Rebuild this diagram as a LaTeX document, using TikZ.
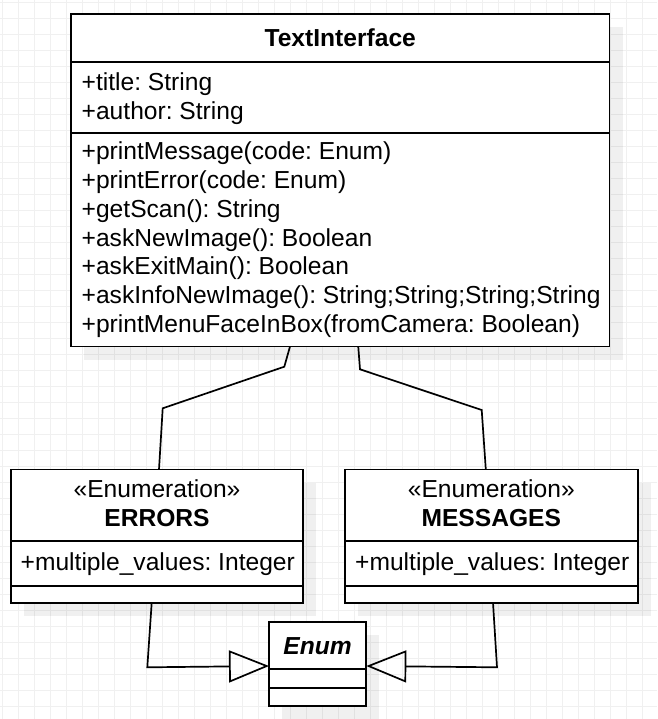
\documentclass[tikz,border=0pt]{standalone}
\usepackage{fontspec}
\setmainfont{Liberation Sans}
\usepackage{tikz}
\usetikzlibrary{calc,shadows,arrows.meta}
\frenchspacing

\begin{document}
\begin{tikzpicture}[x=1pt, y=-1pt,
    umlfont/.style={font=\fontsize{24.6}{28.7}\selectfont},
    classbox/.style={draw, line width=1.9pt, fill=white, inner sep=0pt, outer sep=0pt, anchor=north west,
        drop shadow={shadow xshift=13pt, shadow yshift=-13pt, fill=black, opacity=0.06}},
    rowline/.style={line width=1.9pt},
    member/.style={umlfont, inner sep=0pt, anchor=base west},
    heading/.style={umlfont, inner sep=0pt, anchor=base},
    conn/.style={line width=1.7pt},
    inherit/.style={conn, -{Triangle[open, length=40pt, width=32pt]}}]
        \useasboundingbox (0,0) rectangle (657,719);
        \fill [white] (0,0) rectangle (657,719);
        \foreach \g in {0,...,40} \draw [black!6, line width=1pt] (2.7+16*\g,0) -- (2.7+16*\g,719);
        \foreach \g in {0,...,44} \draw [black!6, line width=1pt] (0,2.7+16*\g) -- (657,2.7+16*\g);

        \node [classbox, minimum width=538.5pt, minimum height=332.5pt] (ti) at (71,14) {};
        \draw [rowline] ($(ti.north west)+(0,47.6)$) -- ($(ti.north east)+(0,47.6)$);
        \draw [rowline] ($(ti.north west)+(0,119)$) -- ($(ti.north east)+(0,119)$);
        \node [heading, font=\fontsize{24.6}{28.7}\selectfont\bfseries] (tiname) at (340.25,46.5) {TextInterface};
        \node [member] (tia1) at (81.5,90.7) {+title: String};
        \node [member] (tia2) at (81.5,119.4) {+author: String};
        \node [member] (tim1) at (81.5,160) {+printMessage(code: Enum)};
        \node [member] (tim2) at (81.5,188.7) {+printError(code: Enum)};
        \node [member] (tim3) at (81.5,217.4) {+getScan(): String};
        \node [member] (tim4) at (81.5,246.1) {+askNewImage(): Boolean};
        \node [member] (tim5) at (81.5,274.8) {+askExitMain(): Boolean};
        \node [member] (tim6) at (81.5,303.5) {+askInfoNewImage(): String;String;String;String};
        \node [member] (tim7) at (81.5,332.2) {+printMenuFaceInBox(fromCamera: Boolean)};

        \node [classbox, minimum width=292.6pt, minimum height=133.2pt] (err) at (10.7,469.5) {};
        \draw [rowline] ($(err.north west)+(0,71.8)$) -- ($(err.north east)+(0,71.8)$);
        \draw [rowline] ($(err.north west)+(0,116.2)$) -- ($(err.north east)+(0,116.2)$);
        \node [heading] (errst) at (157,497.3) {«Enumeration»};
        \node [heading, font=\fontsize{24.6}{28.7}\selectfont\bfseries] (errname) at (157,526.7) {ERRORS};
        \node [member] (erra1) at (20.5,570.7) {+multiple\_values: Integer};

        \node [classbox, minimum width=292.6pt, minimum height=133.2pt] (msg) at (345,469.5) {};
        \draw [rowline] ($(msg.north west)+(0,71.8)$) -- ($(msg.north east)+(0,71.8)$);
        \draw [rowline] ($(msg.north west)+(0,116.2)$) -- ($(msg.north east)+(0,116.2)$);
        \node [heading] (msgst) at (491.3,497.3) {«Enumeration»};
        \node [heading, font=\fontsize{24.6}{28.7}\selectfont\bfseries] (msgname) at (491.3,526.7) {MESSAGES};
        \node [member] (msga1) at (355,570.7) {+multiple\_values: Integer};

        \node [classbox, minimum width=97.3pt, minimum height=84pt] (enm) at (269,621.7) {};
        \draw [rowline] ($(enm.north west)+(0,47.6)$) -- ($(enm.north east)+(0,47.6)$);
        \draw [rowline] ($(enm.north west)+(0,66.6)$) -- ($(enm.north east)+(0,66.6)$);
        \node [heading, font=\fontsize{24.6}{28.7}\selectfont\bfseries\itshape] (enmname) at (317.6,654) {Enum};

        \draw [conn] ([xshift=-50.25pt]ti.south) -- (284.3,366.7) -- (162.7,408.3) -- ([xshift=2pt]err.north);
        \draw [conn] ([xshift=18pt]ti.south) -- (360,369.3) -- (481.7,410) -- ([xshift=-5.5pt]msg.north);
        \draw [inherit] ([xshift=-5.3pt]err.south) -- (147.3,667.3) -- ($(enm.west)+(0,2.3)$);
        \draw [inherit] ([xshift=1.7pt]msg.south) -- (497,667.3) -- ($(enm.east)+(0,2.3)$);
\end{tikzpicture}
\end{document}
